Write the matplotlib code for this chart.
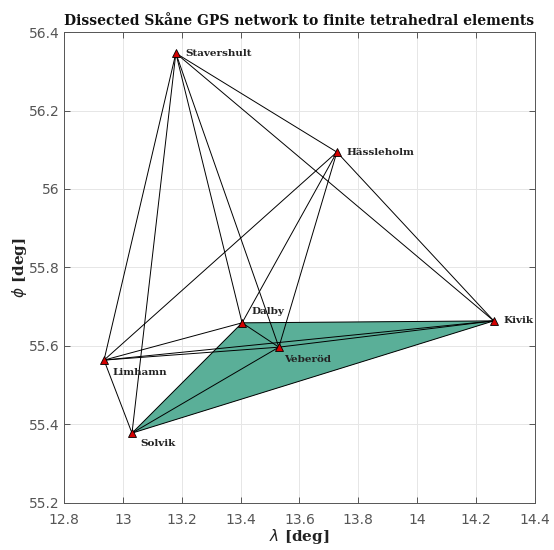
import matplotlib
matplotlib.use("Agg")
import matplotlib.pyplot as plt
from matplotlib.patches import Polygon

# Station data
stations = ["Stavershult", "Hässleholm", "Kivik", "Dalby", "Veberöd", "Limhamn", "Solvik"]
lon = [13.18, 13.727, 14.26, 13.405, 13.53, 12.936, 13.031]
lat = [56.346, 56.094, 55.664, 55.659, 55.597, 55.564, 55.378]

# Network edges (by station name)
edges = [
    ("Stavershult", "Limhamn"), ("Stavershult", "Solvik"), ("Stavershult", "Dalby"),
    ("Stavershult", "Veberöd"), ("Stavershult", "Hässleholm"), ("Stavershult", "Kivik"),
    ("Hässleholm", "Limhamn"), ("Hässleholm", "Dalby"), ("Hässleholm", "Veberöd"),
    ("Hässleholm", "Kivik"),
    ("Limhamn", "Dalby"), ("Limhamn", "Veberöd"), ("Limhamn", "Kivik"), ("Limhamn", "Solvik"),
    ("Solvik", "Dalby"), ("Solvik", "Veberöd"), ("Solvik", "Kivik"),
    ("Dalby", "Veberöd"), ("Dalby", "Kivik"), ("Veberöd", "Kivik"),
]

# Highlighted tetrahedral element
element = ["Solvik", "Dalby", "Veberöd", "Kivik"]

idx = {n: i for i, n in enumerate(stations)}

fig = plt.figure(figsize=(5.54, 5.5), dpi=100)
ax = fig.add_axes([0.1155, 0.0855, 0.8502, 0.8563])

# Faces of the element
faces = [(0, 1, 3), (0, 2, 3), (1, 2, 3), (0, 1, 2)]
for f in faces:
    pts = [(lon[idx[element[k]]], lat[idx[element[k]]]) for k in f]
    ax.add_patch(Polygon(pts, closed=True, facecolor="#5aaf98", edgecolor="none", zorder=2))

for a, b in edges:
    ax.plot([lon[idx[a]], lon[idx[b]]], [lat[idx[a]], lat[idx[b]]],
            color="black", lw=0.7, zorder=3)

ax.plot(lon, lat, linestyle="none", marker="^", markersize=6,
        markerfacecolor="#d40000", markeredgecolor="black", markeredgewidth=0.6, zorder=4)

offsets = {
    "Stavershult": (7, 0, "left", "center"),
    "Hässleholm": (7, 0, "left", "center"),
    "Kivik": (7, 0, "left", "center"),
    "Dalby": (7, 5, "left", "bottom"),
    "Veberöd": (4, -6, "left", "top"),
    "Limhamn": (6, -6, "left", "top"),
    "Solvik": (6, -4, "left", "top"),
}
for n in stations:
    dx, dy, ha, va = offsets[n]
    ax.annotate(n, (lon[idx[n]], lat[idx[n]]), xytext=(dx, dy), textcoords="offset points",
                ha=ha, va=va, fontsize=7.5, fontweight="bold", family="DejaVu Serif",
                color="#222222", zorder=5)

ax.set_xlim(12.8, 14.4)
ax.set_ylim(55.2, 56.4)
ax.set_xticks([12.8, 13, 13.2, 13.4, 13.6, 13.8, 14, 14.2, 14.4])
ax.set_xticklabels(["12.8", "13", "13.2", "13.4", "13.6", "13.8", "14", "14.2", "14.4"])
ax.set_yticks([55.2, 55.4, 55.6, 55.8, 56, 56.2, 56.4])
ax.set_yticklabels(["55.2", "55.4", "55.6", "55.8", "56", "56.2", "56.4"])
ax.grid(True, color="#e6e6e6", lw=0.7, zorder=0)
ax.set_axisbelow(True)
ax.tick_params(direction="in", top=True, right=True, labelsize=10, colors="#555555",
               length=4, width=0.7, pad=3)
ax.tick_params(axis="x", pad=7)
for s in ax.spines.values():
    s.set_color("#555555")
    s.set_linewidth(0.7)

ax.set_xlabel(r"$\lambda$ [deg]", fontsize=11, fontweight="bold", family="DejaVu Serif",
              color="#222222", labelpad=0)
ax.set_ylabel(r"$\phi$ [deg]", fontsize=11, fontweight="bold", family="DejaVu Serif",
              color="#222222", labelpad=0)
ax.set_title("Dissected Skåne GPS network to finite tetrahedral elements", fontsize=10,
             fontweight="bold", family="DejaVu Serif", color="#111111", pad=5)

fig.savefig("out.png", dpi=100)
